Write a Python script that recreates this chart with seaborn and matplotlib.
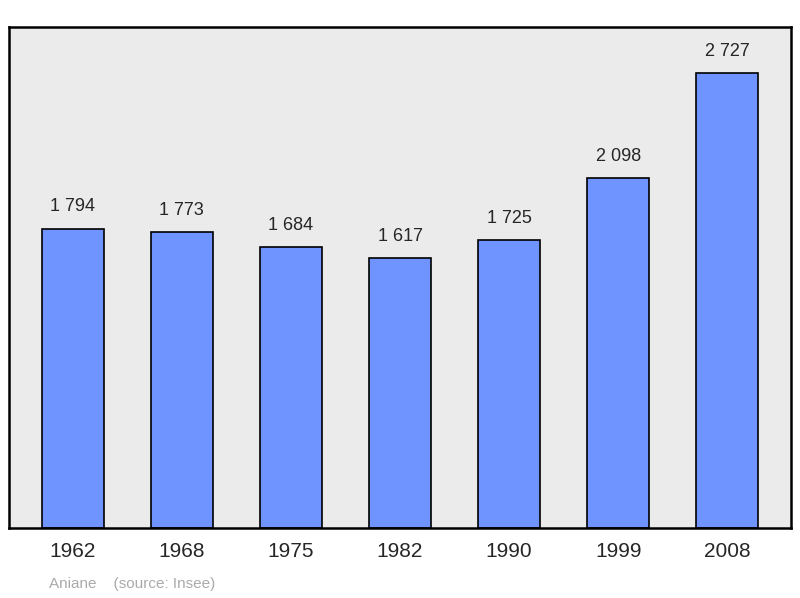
import matplotlib
matplotlib.use("Agg")
import matplotlib.pyplot as plt
import seaborn as sns
import pandas as pd

years = ["1962", "1968", "1975", "1982", "1990", "1999", "2008"]
population = [1794, 1773, 1684, 1617, 1725, 2098, 2727]
labels = ["1 794", "1 773", "1 684", "1 617", "1 725", "2 098", "2 727"]

sns.set_style("white")
plt.rcParams['font.family'] = ['Liberation Sans', 'DejaVu Sans']

fig = plt.figure(figsize=(8, 5.98), dpi=100)
ax = fig.add_axes([9/800, 1-528/598, 782/800, 501/598])
df = pd.DataFrame({"year": years, "pop": population})
sns.barplot(data=df, x="year", y="pop", color="#7094FF", saturation=1,
            width=0.57, edgecolor="black", linewidth=1.2, ax=ax)
ax.set_facecolor("#EBEBEB")
ax.set_xlim(-0.585, 6.585)
ax.set_ylim(0, 3003)
ax.set_yticks([])
ax.set_xlabel("")
ax.set_ylabel("")
for s in ax.spines.values():
    s.set_linewidth(1.8)
    s.set_color("black")
ax.tick_params(axis="x", length=0, labelsize=15, pad=10)
for i, (v, t) in enumerate(zip(population, labels)):
    ax.text(i, v + 80, t, ha="center", va="bottom", fontsize=13)
fig.text(49/800, 1-584/598, "Aniane    (source: Insee)", fontsize=11,
         color="#AAAAAA", va="center")
fig.savefig("out.png", dpi=100)
